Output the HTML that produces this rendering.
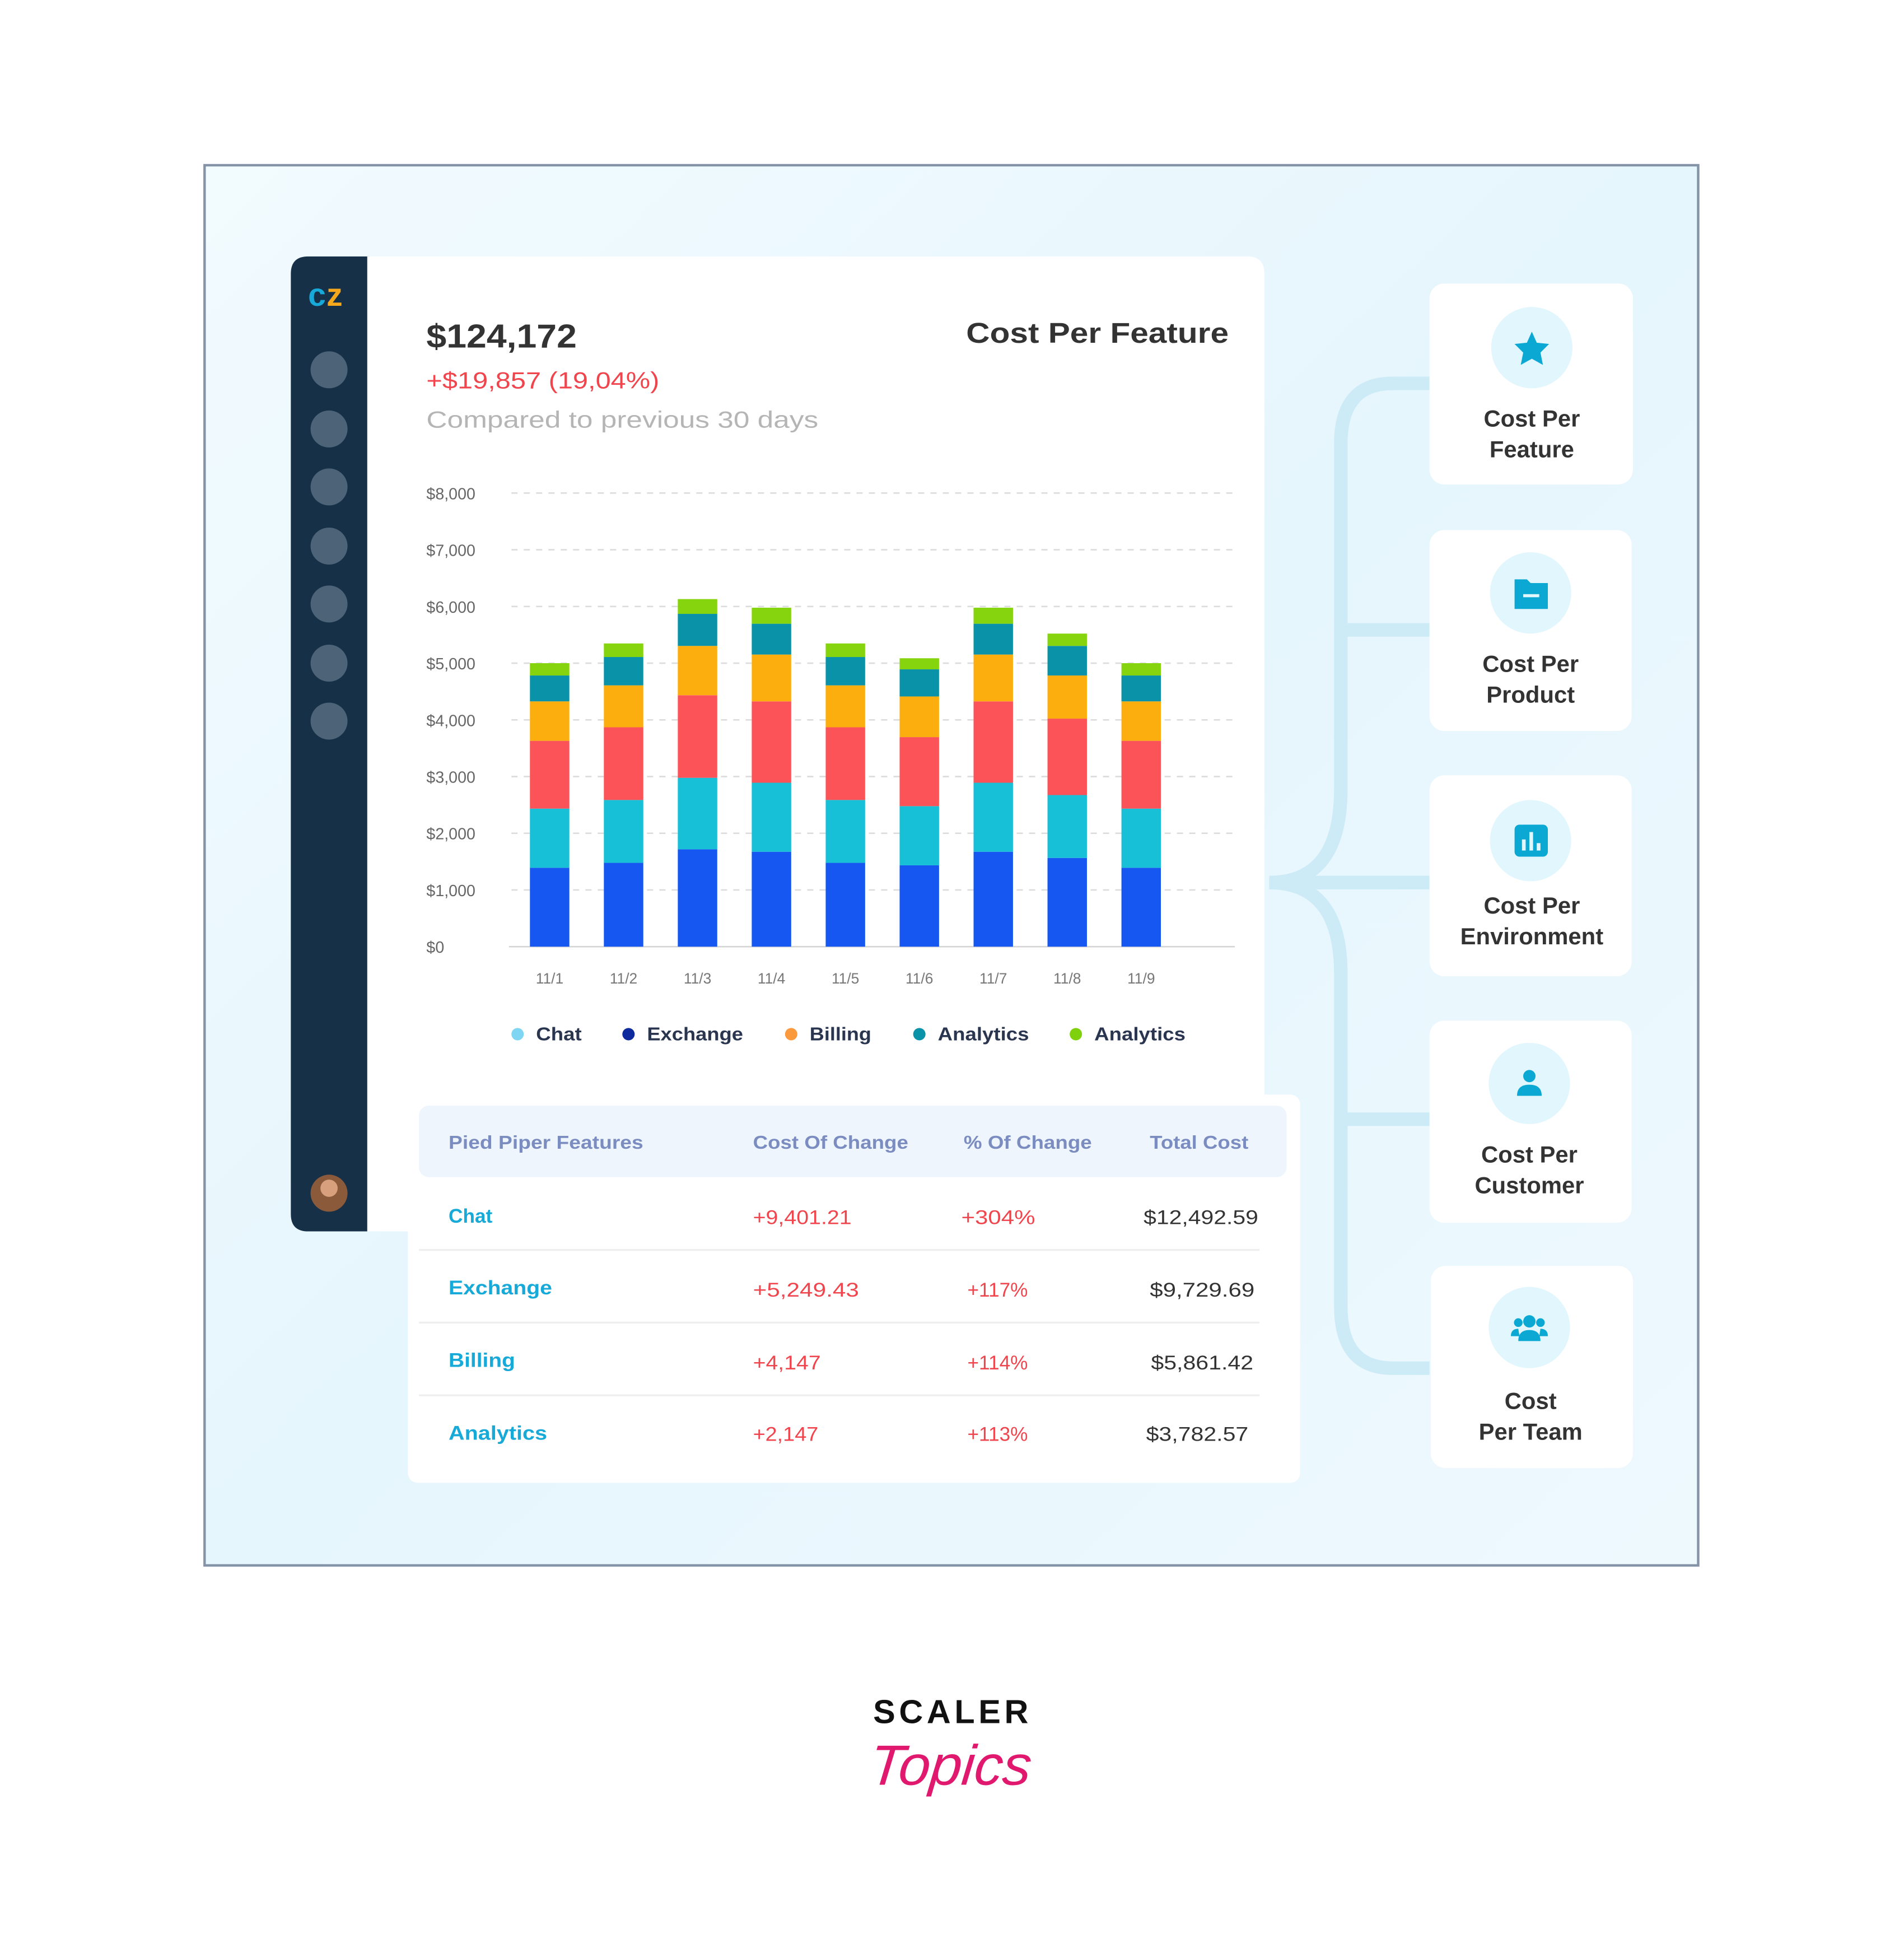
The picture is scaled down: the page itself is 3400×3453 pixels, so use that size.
<!DOCTYPE html>
<html><head><meta charset="utf-8"><style>
html,body{margin:0;padding:0;background:#fff;width:3400px;height:3453px;overflow:hidden}
svg{display:block}
text{font-family:"Liberation Sans",sans-serif}
</style></head><body>
<svg width="3400" height="3453" viewBox="0 0 1545 1569" xmlns="http://www.w3.org/2000/svg">
<defs>
<linearGradient id="bg" x1="0" y1="0" x2="1" y2="1"><stop offset="0" stop-color="#f2fbfe"/><stop offset="0.5" stop-color="#e6f6fd"/><stop offset="1" stop-color="#eef9fe"/></linearGradient>
</defs>
<rect x="0" y="0" width="1545" height="1569" fill="#fff"/>
<rect x="166" y="134" width="1212" height="1136" fill="url(#bg)" stroke="#8593a6" stroke-width="2"/>
<g fill="none" stroke="#cdebf7" stroke-width="11">
<path d="M1160 311 L1130 311 Q1088 311 1088 360 L1088 640 Q1088 716 1030 716"/>
<path d="M1160 1110 L1130 1110 Q1088 1110 1088 1060 L1088 790 Q1088 716 1030 716"/>
<path d="M1088 511 L1160 511 M1030 716 L1160 716 M1088 908 L1160 908"/>
</g>
<path d="M250 208 H300 V999 H250 Q236 999 236 985 V222 Q236 208 250 208 Z" fill="#163047"/>
<text x="250" y="248" font-size="26" font-weight="bold" fill="#17a9d8">c</text><text x="265" y="248" font-size="26" font-weight="bold" fill="#f6a81c">z</text>
<g fill="#4d6478"><circle cx="267" cy="300" r="15"/><circle cx="267" cy="348" r="15"/><circle cx="267" cy="395" r="15"/><circle cx="267" cy="443" r="15"/><circle cx="267" cy="490" r="15"/><circle cx="267" cy="538" r="15"/><circle cx="267" cy="585" r="15"/></g>
<circle cx="267" cy="968" r="15" fill="#8a5a3a"/><circle cx="267" cy="964" r="7" fill="#d9a07e"/>
<path d="M298 208 H1012 Q1026 208 1026 222 V999 H298 Z" fill="#fff"/>
<text x="346" y="282" font-size="27" font-weight="bold" fill="#333" textLength="122" lengthAdjust="spacingAndGlyphs">$124,172</text>
<text x="346" y="315" font-size="19" fill="#f0454d" textLength="189" lengthAdjust="spacingAndGlyphs">+$19,857 (19,04%)</text>
<text x="346" y="347" font-size="19" fill="#b5b5b5" textLength="318" lengthAdjust="spacingAndGlyphs">Compared to previous 30 days</text>
<text x="784" y="278" font-size="23" font-weight="bold" fill="#333" textLength="213" lengthAdjust="spacingAndGlyphs">Cost Per Feature</text>
<g stroke="#dcdcdc" stroke-width="1.2" stroke-dasharray="5 5">
<line x1="415" y1="400" x2="1002" y2="400"/><line x1="415" y1="446" x2="1002" y2="446"/><line x1="415" y1="492" x2="1002" y2="492"/><line x1="415" y1="538" x2="1002" y2="538"/><line x1="415" y1="584" x2="1002" y2="584"/><line x1="415" y1="630" x2="1002" y2="630"/><line x1="415" y1="676" x2="1002" y2="676"/><line x1="415" y1="722" x2="1002" y2="722"/>
</g>
<line x1="413" y1="768" x2="1002" y2="768" stroke="#d5d5d5" stroke-width="1.2"/>
<g font-size="13" fill="#666">
<text x="346" y="405">$8,000</text><text x="346" y="451">$7,000</text><text x="346" y="497">$6,000</text><text x="346" y="543">$5,000</text><text x="346" y="589">$4,000</text><text x="346" y="635">$3,000</text><text x="346" y="681">$2,000</text><text x="346" y="727">$1,000</text><text x="346" y="773">$0</text>
</g>
<g font-size="12" fill="#777" text-anchor="middle">
<text x="446" y="798">11/1</text><text x="506" y="798">11/2</text><text x="566" y="798">11/3</text><text x="626" y="798">11/4</text><text x="686" y="798">11/5</text><text x="746" y="798">11/6</text><text x="806" y="798">11/7</text><text x="866" y="798">11/8</text><text x="926" y="798">11/9</text>
</g>
<g>
<g transform="translate(430,0)"><rect y="704" width="32" height="64" fill="#1557f0"/><rect y="656" width="32" height="48" fill="#17c0d6"/><rect y="601" width="32" height="55" fill="#fb5357"/><rect y="569" width="32" height="32" fill="#fdae0f"/><rect y="548" width="32" height="21" fill="#0a93a8"/><rect y="538" width="32" height="10" fill="#86d40e"/></g>
<g transform="translate(490,0)"><rect y="700" width="32" height="68" fill="#1557f0"/><rect y="649" width="32" height="51" fill="#17c0d6"/><rect y="590" width="32" height="59" fill="#fb5357"/><rect y="556" width="32" height="34" fill="#fdae0f"/><rect y="533" width="32" height="23" fill="#0a93a8"/><rect y="522" width="32" height="11" fill="#86d40e"/></g>
<g transform="translate(550,0)"><rect y="689" width="32" height="79" fill="#1557f0"/><rect y="631" width="32" height="58" fill="#17c0d6"/><rect y="564" width="32" height="67" fill="#fb5357"/><rect y="524" width="32" height="40" fill="#fdae0f"/><rect y="498" width="32" height="26" fill="#0a93a8"/><rect y="486" width="32" height="12" fill="#86d40e"/></g>
<g transform="translate(610,0)"><rect y="691" width="32" height="77" fill="#1557f0"/><rect y="635" width="32" height="56" fill="#17c0d6"/><rect y="569" width="32" height="66" fill="#fb5357"/><rect y="531" width="32" height="38" fill="#fdae0f"/><rect y="506" width="32" height="25" fill="#0a93a8"/><rect y="493" width="32" height="13" fill="#86d40e"/></g>
<g transform="translate(670,0)"><rect y="700" width="32" height="68" fill="#1557f0"/><rect y="649" width="32" height="51" fill="#17c0d6"/><rect y="590" width="32" height="59" fill="#fb5357"/><rect y="556" width="32" height="34" fill="#fdae0f"/><rect y="533" width="32" height="23" fill="#0a93a8"/><rect y="522" width="32" height="11" fill="#86d40e"/></g>
<g transform="translate(730,0)"><rect y="702" width="32" height="66" fill="#1557f0"/><rect y="654" width="32" height="48" fill="#17c0d6"/><rect y="598" width="32" height="56" fill="#fb5357"/><rect y="565" width="32" height="33" fill="#fdae0f"/><rect y="543" width="32" height="22" fill="#0a93a8"/><rect y="534" width="32" height="9" fill="#86d40e"/></g>
<g transform="translate(790,0)"><rect y="691" width="32" height="77" fill="#1557f0"/><rect y="635" width="32" height="56" fill="#17c0d6"/><rect y="569" width="32" height="66" fill="#fb5357"/><rect y="531" width="32" height="38" fill="#fdae0f"/><rect y="506" width="32" height="25" fill="#0a93a8"/><rect y="493" width="32" height="13" fill="#86d40e"/></g>
<g transform="translate(850,0)"><rect y="696" width="32" height="72" fill="#1557f0"/><rect y="645" width="32" height="51" fill="#17c0d6"/><rect y="583" width="32" height="62" fill="#fb5357"/><rect y="548" width="32" height="35" fill="#fdae0f"/><rect y="524" width="32" height="24" fill="#0a93a8"/><rect y="514" width="32" height="10" fill="#86d40e"/></g>
<g transform="translate(910,0)"><rect y="704" width="32" height="64" fill="#1557f0"/><rect y="656" width="32" height="48" fill="#17c0d6"/><rect y="601" width="32" height="55" fill="#fb5357"/><rect y="569" width="32" height="32" fill="#fdae0f"/><rect y="548" width="32" height="21" fill="#0a93a8"/><rect y="538" width="32" height="10" fill="#86d40e"/></g>
</g>
<g font-size="15" font-weight="bold" fill="#2a3550">
<circle cx="420" cy="839" r="5" fill="#7fd6f2"/><text x="435" y="844" textLength="37" lengthAdjust="spacingAndGlyphs">Chat</text>
<circle cx="510" cy="839" r="5" fill="#0f2a9c"/><text x="525" y="844" textLength="78" lengthAdjust="spacingAndGlyphs">Exchange</text>
<circle cx="642" cy="839" r="5" fill="#fb9a3c"/><text x="657" y="844" textLength="50" lengthAdjust="spacingAndGlyphs">Billing</text>
<circle cx="746" cy="839" r="5" fill="#0a93a8"/><text x="761" y="844" textLength="74" lengthAdjust="spacingAndGlyphs">Analytics</text>
<circle cx="873" cy="839" r="5" fill="#7fd10e"/><text x="888" y="844" textLength="74" lengthAdjust="spacingAndGlyphs">Analytics</text>
</g>
<rect x="331" y="888" width="724" height="315" rx="8" fill="#fff"/>
<rect x="340" y="897" width="704" height="58" rx="8" fill="#eef5fd"/>
<g font-size="15" font-weight="bold" fill="#7a8cc0">
<text x="364" y="932" textLength="158" lengthAdjust="spacingAndGlyphs">Pied Piper Features</text><text x="611" y="932" textLength="126" lengthAdjust="spacingAndGlyphs">Cost Of Change</text><text x="782" y="932" textLength="104" lengthAdjust="spacingAndGlyphs">% Of Change</text><text x="933" y="932" textLength="80" lengthAdjust="spacingAndGlyphs">Total Cost</text>
</g>
<g stroke="#eeeeee" stroke-width="1.5"><line x1="340" y1="1014" x2="1022" y2="1014"/><line x1="340" y1="1073" x2="1022" y2="1073"/><line x1="340" y1="1132" x2="1022" y2="1132"/></g>
<g font-size="16">
<text x="364" y="992" fill="#17a9d8" font-weight="bold">Chat</text><text x="611" y="993" fill="#f0454d" textLength="80" lengthAdjust="spacingAndGlyphs">+9,401.21</text><text x="780" y="993" fill="#f0454d" textLength="60" lengthAdjust="spacingAndGlyphs">+304%</text><text x="928" y="993" fill="#333" textLength="93" lengthAdjust="spacingAndGlyphs">$12,492.59</text>
<text x="364" y="1050" fill="#17a9d8" font-weight="bold" textLength="84" lengthAdjust="spacingAndGlyphs">Exchange</text><text x="611" y="1052" fill="#f0454d" textLength="86" lengthAdjust="spacingAndGlyphs">+5,249.43</text><text x="785" y="1052" fill="#f0454d">+117%</text><text x="933" y="1052" fill="#333" textLength="85" lengthAdjust="spacingAndGlyphs">$9,729.69</text>
<text x="364" y="1109" fill="#17a9d8" font-weight="bold" textLength="54" lengthAdjust="spacingAndGlyphs">Billing</text><text x="611" y="1111" fill="#f0454d" textLength="55" lengthAdjust="spacingAndGlyphs">+4,147</text><text x="785" y="1111" fill="#f0454d">+114%</text><text x="934" y="1111" fill="#333" textLength="83" lengthAdjust="spacingAndGlyphs">$5,861.42</text>
<text x="364" y="1168" fill="#17a9d8" font-weight="bold" textLength="80" lengthAdjust="spacingAndGlyphs">Analytics</text><text x="611" y="1169" fill="#f0454d" textLength="53" lengthAdjust="spacingAndGlyphs">+2,147</text><text x="785" y="1169" fill="#f0454d">+113%</text><text x="930" y="1169" fill="#333" textLength="83" lengthAdjust="spacingAndGlyphs">$3,782.57</text>
</g>
<g>
<rect x="1160" y="230" width="165" height="163" rx="12" fill="#fff"/>
<rect x="1160" y="430" width="164" height="163" rx="12" fill="#fff"/>
<rect x="1160" y="629" width="164" height="163" rx="12" fill="#fff"/>
<rect x="1160" y="828" width="164" height="164" rx="12" fill="#fff"/>
<rect x="1161" y="1027" width="164" height="164" rx="12" fill="#fff"/>
<g fill="#e2f6fd"><circle cx="1243" cy="282" r="33"/><circle cx="1242" cy="481" r="33"/><circle cx="1242" cy="682" r="33"/><circle cx="1241" cy="879" r="33"/><circle cx="1241" cy="1077" r="33"/></g>
<g fill="#0ba8d4">
<path d="M1243 269 L1247 278 L1257 279 L1250 286 L1252 296 L1243 291 L1234 296 L1236 286 L1229 279 L1239 278 Z"/>
<path d="M1229 470 H1239 L1242 473 H1256 V494 H1229 Z"/><rect x="1236" y="482" width="13" height="2.5" fill="#e2f6fd"/>
<rect x="1229" y="669" width="27" height="26" rx="4"/><g fill="#e2f6fd"><rect x="1235" y="681" width="3" height="9"/><rect x="1241" y="675" width="3" height="15"/><rect x="1247" y="684" width="3" height="6"/></g>
<circle cx="1241" cy="873" r="5"/><path d="M1231 889 Q1231 880 1241 880 Q1251 880 1251 889 Z"/>
<circle cx="1241" cy="1072" r="5"/><path d="M1232 1088 Q1232 1079 1241 1079 Q1250 1079 1250 1088 Z"/><circle cx="1232" cy="1073" r="3.5"/><circle cx="1250" cy="1073" r="3.5"/><path d="M1226 1084 Q1226 1078 1232 1078 L1233 1084 Z"/><path d="M1256 1084 Q1256 1078 1250 1078 L1249 1084 Z"/>
</g>
<g font-size="19" font-weight="bold" fill="#333" text-anchor="middle">
<text x="1243" y="346">Cost Per</text><text x="1243" y="371">Feature</text>
<text x="1242" y="545">Cost Per</text><text x="1242" y="570">Product</text>
<text x="1243" y="741">Cost Per</text><text x="1243" y="766">Environment</text>
<text x="1241" y="943">Cost Per</text><text x="1241" y="968">Customer</text>
<text x="1242" y="1143">Cost</text><text x="1242" y="1168">Per Team</text>
</g>
</g>
<text x="773" y="1398" font-size="27" font-weight="bold" fill="#111" text-anchor="middle" letter-spacing="3">SCALER</text>
<text x="772" y="1448" font-size="46" font-style="italic" fill="#e0196f" text-anchor="middle" font-family="Liberation Serif, serif" transform="skewX(-6) translate(150,0)">Topics</text>
</svg>
</body></html>
